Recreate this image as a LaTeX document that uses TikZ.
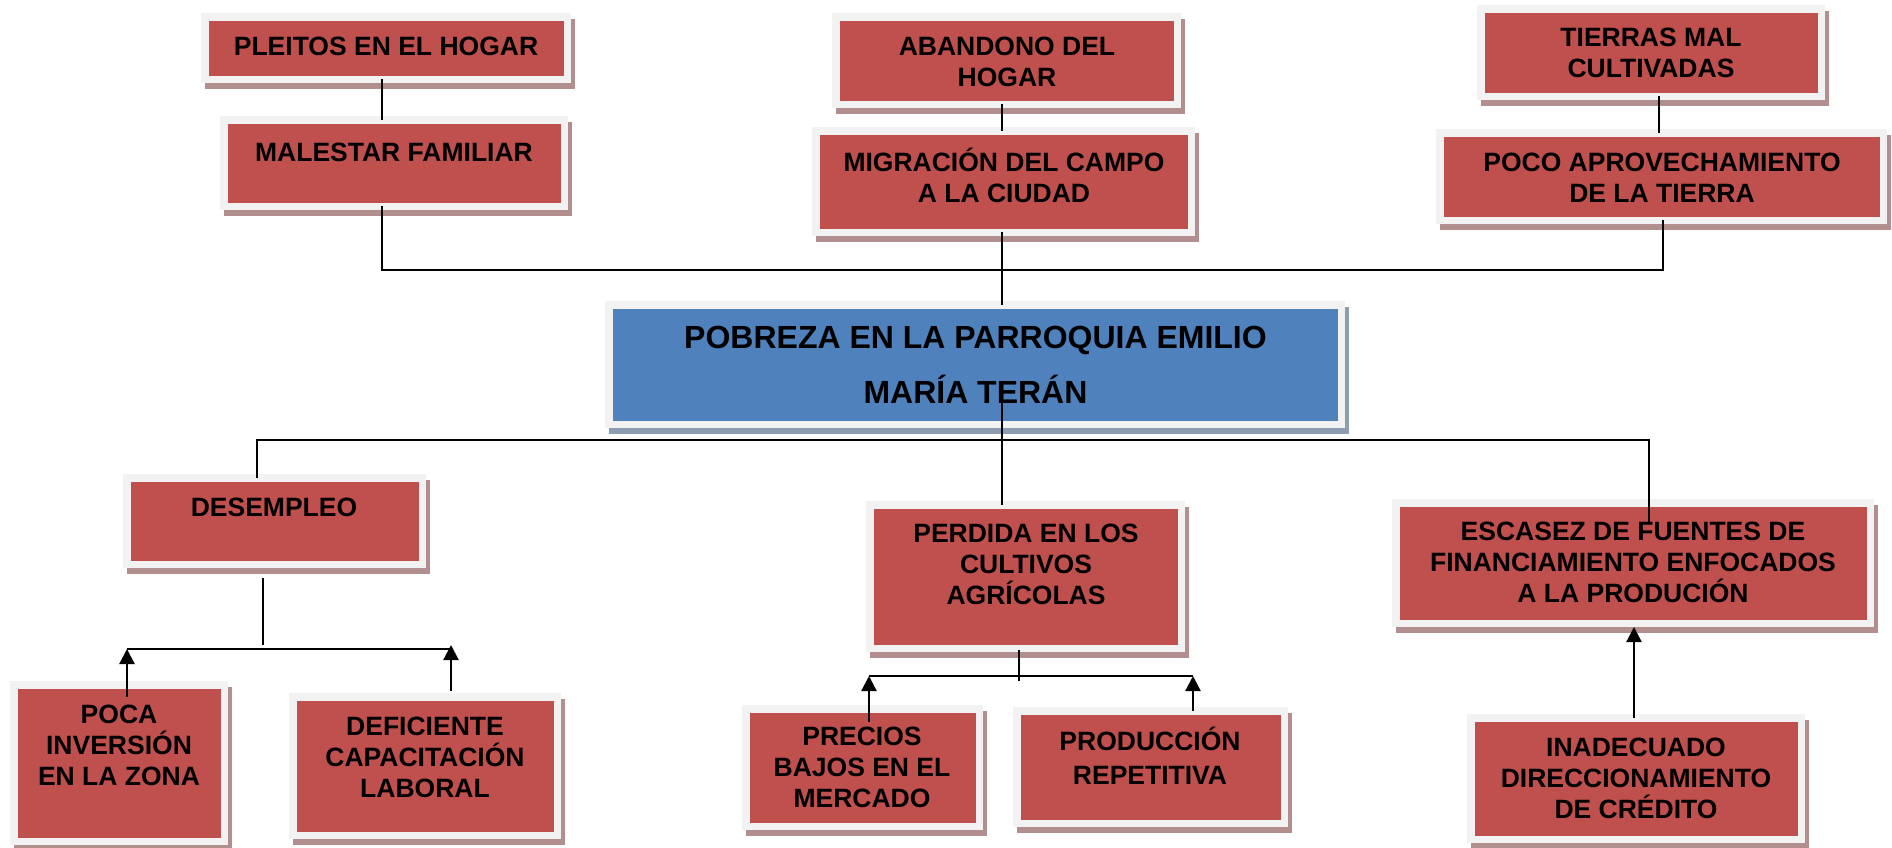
\documentclass[tikz,border=0pt]{standalone}
\usepackage{fontspec}
\setmainfont{Liberation Sans}
\usetikzlibrary{arrows.meta}
\definecolor{boxred}{HTML}{C0504D}
\definecolor{boxframe}{HTML}{F2F2F2}
\definecolor{redshadow}{HTML}{B38E8E}
\definecolor{boxblue}{HTML}{4F81BD}
\definecolor{blueshadow}{HTML}{8E9DB2}
\begin{document}
\begin{tikzpicture}[x=0.5pt,y=-0.5pt,
  framebox/.style={draw=boxframe, line width=3.75pt, inner sep=0pt, outer sep=0pt},
  rbox/.style={framebox, fill=boxred,
    preaction={draw=redshadow, fill=redshadow, transform canvas={xshift=2pt,yshift=-3pt}}},
  bbox/.style={framebox, fill=boxblue,
    preaction={draw=blueshadow, fill=blueshadow, transform canvas={xshift=2pt,yshift=-3pt}}},
  txt/.style={font=\bfseries\fontsize{13.25pt}{15.5pt}\selectfont, align=center, inner sep=0pt},
  ttl/.style={font=\bfseries\fontsize{16pt}{27.5pt}\selectfont, align=center, inner sep=0pt},
  conn/.style={line width=1.1pt, black},
  arr/.style={conn, -{Triangle[length=7.5pt,width=7.5pt]}}]
\useasboundingbox (0,0) rectangle (1892,847);
\fill[white] (0,0) rectangle (1892,847);

% boxes
\node[rbox, minimum width=181.25pt, minimum height=31.25pt] (pleitos) at (386,48) {};
\node[rbox, minimum width=170.25pt, minimum height=43.25pt] (malestar) at (394,163) {};
\node[rbox, minimum width=170.75pt, minimum height=43.75pt] (abandono) at (1006.5,60.5) {};
\node[rbox, minimum width=187.75pt, minimum height=50.75pt] (migracion) at (1003.5,181.5) {};
\node[rbox, minimum width=170.25pt, minimum height=43.75pt] (tierras) at (1651,52.5) {};
\node[rbox, minimum width=221.75pt, minimum height=43.75pt] (poco) at (1661.5,176.5) {};
\node[bbox, minimum width=366.25pt, minimum height=59.75pt] (title) at (975,364.5) {};
\node[rbox, minimum width=147.75pt, minimum height=43.25pt] (desempleo) at (274.5,521) {};
\node[rbox, minimum width=155.75pt, minimum height=71.75pt] (perdida) at (1025.5,576.5) {};
\node[rbox, minimum width=237.25pt, minimum height=60.25pt] (escasez) at (1633,563) {};
\node[rbox, minimum width=105.25pt, minimum height=78.25pt] (poca) at (119,763) {};
\node[rbox, minimum width=132.25pt, minimum height=69.25pt] (deficiente) at (425,766) {};
\node[rbox, minimum width=116.75pt, minimum height=58.75pt] (precios) at (862.5,767.5) {};
\node[rbox, minimum width=133.75pt, minimum height=56.25pt] (produccion) at (1150.5,767) {};
\node[rbox, minimum width=165.25pt, minimum height=60.75pt] (inadecuado) at (1636,778.5) {};

% texts
\node[txt] (t-pleitos) at (386,46) {PLEITOS EN EL HOGAR};
\node[txt] (t-malestar) at (394,152) {MALESTAR FAMILIAR};
\node[txt] (t-abandono) at (1007,62) {ABANDONO DEL\\HOGAR};
\node[txt] (t-migracion) at (1004,175) {MIGRACIÓN DEL CAMPO\\A LA CIUDAD};
\node[txt] (t-tierras) at (1651,52.5) {TIERRAS MAL\\CULTIVADAS};
\node[txt] (t-poco) at (1662,177.5) {POCO APROVECHAMIENTO\\DE LA TIERRA};
\node[ttl] (t-title) at (975.5,364.5) {POBREZA EN LA PARROQUIA EMILIO\\MARÍA TERÁN};
\node[txt] (t-desempleo) at (274,507) {DESEMPLEO};
\node[txt] (t-perdida) at (1026,564) {PERDIDA EN LOS\\CULTIVOS\\AGRÍCOLAS};
\node[txt] (t-escasez) at (1633,562.5) {ESCASEZ DE FUENTES DE\\FINANCIAMIENTO ENFOCADOS\\A LA PRODUCIÓN};
\node[txt] (t-poca) at (119,745) {POCA\\INVERSIÓN\\EN LA ZONA};
\node[txt] (t-deficiente) at (425,757) {DEFICIENTE\\CAPACITACIÓN\\LABORAL};
\node[txt] (t-precios) at (862,767) {PRECIOS\\BAJOS EN EL\\MERCADO};
\node[txt, font=\bfseries\fontsize{13.25pt}{17pt}\selectfont] (t-produccion) at (1150,755.5) {PRODUCCIÓN\\REPETITIVA};
\node[txt] (t-inadecuado) at (1636,778) {INADECUADO\\DIRECCIONAMIENTO\\DE CRÉDITO};

% junction coordinates
\coordinate (tl) at (382,270);
\coordinate (tm) at (1002,270);
\coordinate (tr) at (1663,270);
\coordinate (tc) at (1659,0);
\coordinate (ti) at (1002,402);
\coordinate (bl) at (257,440);
\coordinate (br) at (1649,440);
\coordinate (be) at (1649,522);
\coordinate (d1) at (263,578);
\coordinate (d2) at (263,645);
\coordinate (dl) at (127,649);
\coordinate (dr) at (451,649);
\coordinate (p1) at (1019,650);
\coordinate (p2) at (1019,681);
\coordinate (pl) at (869,676);
\coordinate (pr) at (1193,676);
\coordinate (ea) at (1634,627);

% upper connectors
\draw[conn] (pleitos.south -| tl) -- (malestar.north -| tl);
\draw[conn] (malestar.south -| tl) -- (tl) -- (tr) -- (poco.south -| tr);
\draw[conn] (tierras.south -| tc) -- (poco.north -| tc);
\draw[conn] (abandono.south -| tm) -- (migracion.north -| tm);
\draw[conn] (migracion.south -| tm) -- (title.north -| tm);

% lower connectors
\draw[conn] (ti) -- (perdida.north -| ti);
\draw[conn] (desempleo.north -| bl) -- (bl) -- (br) -- (be);

\draw[conn] (d1) -- (d2);
\draw[conn] (dl) -- (dr);
\draw[arr] ([yshift=-6pt]poca.north -| dl) -- (dl);
\draw[arr] ([yshift=3pt]deficiente.north -| dr) -- ([yshift=2pt]dr);

\draw[conn] (p1) -- (p2);
\draw[conn] (pl) -- (pr);
\draw[arr] ([yshift=-6.5pt]precios.north -| pl) -- (pl);
\draw[arr] (produccion.north -| pr) -- (pr);

\draw[arr] (inadecuado.north -| ea) -- (ea);
\end{tikzpicture}
\end{document}
